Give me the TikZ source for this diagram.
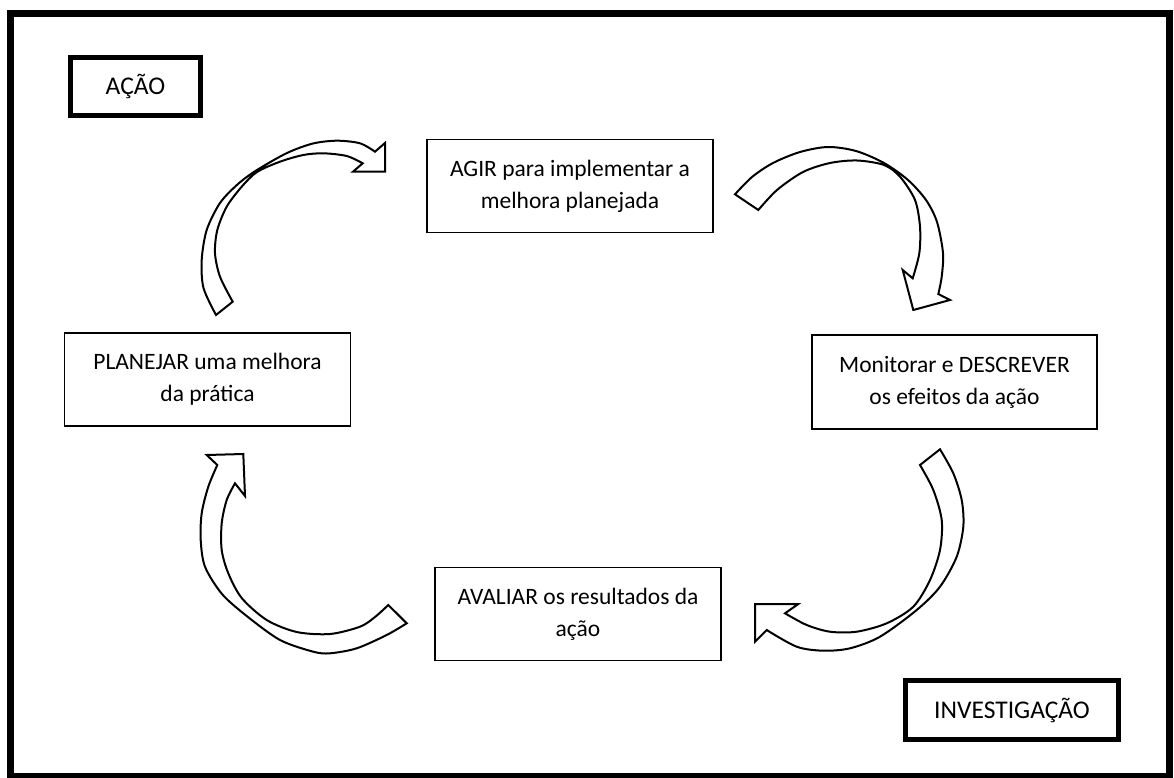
\documentclass[tikz,border=0pt]{standalone}
\usepackage{fontspec}
\setmainfont{Carlito}
\begin{document}
\begin{tikzpicture}[x=1pt,y=-1pt,
  caixa/.style={draw, line width=1.5pt, minimum width=286pt, minimum height=93pt, align=center, font=\fontsize{23.5}{32}\selectfont},
  rotulo/.style={draw, line width=5pt, font=\fontsize{25.5}{30}\selectfont},
  seta/.style={draw, line width=2pt, fill=white, line join=miter}]
\useasboundingbox (0,0) rectangle (1174,778);
\draw[line width=7pt] (10.5,13.5) rectangle (1169.5,776.5);

\node[rotulo, minimum width=130pt, minimum height=58pt] (acao) at (135.5,86.5) {AÇÃO};
\node[rotulo, minimum width=213pt, minimum height=59pt] (investigacao) at (1012,710) {INVESTIGAÇÃO};

\node[caixa] (agir) at (570,186) {AGIR para implementar a\\melhora planejada};
\node[caixa, minimum width=285pt, minimum height=94pt] (monitorar) at (954.5,382) {Monitorar e DESCREVER\\os efeitos da ação};
\node[caixa] (avaliar) at (578,614) {AVALIAR os resultados da\\ação};
\node[caixa] (planejar) at (207.5,379.5) {PLANEJAR uma melhora\\da prática};

\draw[seta] plot[smooth] coordinates {(216,315) (203.5,288) (201.7,260) (206.7,230) (220,203) (238,184) (257,170) (287,153) (313,143.5) (337,140.7) (360,143.3) (375,151.7)}
  -- (385,143) -- (385,171.7) -- (353,171.7)
  -- plot[smooth] coordinates {(362.7,163.3) (346.7,156) (323.3,153.3) (303.3,155) (280,161.7) (257,172) (241.7,186.7) (226.7,206.7) (217.3,230) (215,253.3) (220,276.7) (232.7,301.7)} -- cycle;

\draw[seta] plot[smooth] coordinates {(735,194.3) (752,177) (773,163) (800,152) (828,147) (856,151) (884,163) (908,180) (926,200) (937,222) (943,253) (941.7,276.7) (938.3,294)}
  -- (950,300) -- (913.3,310) -- (902.7,270)
  -- plot[smooth] coordinates {(912.7,278.3) (919.3,253.3) (920,226.7) (915,200) (900,176.7) (884,165) (857,160.5) (830,163) (803,172) (777,190) (758.3,210)} -- cycle;

\draw[seta] plot[smooth] coordinates {(940,449.3) (953.3,473.3) (961.7,500) (963.3,526.7) (956.7,556.7) (940,586.7) (916.7,610) (880,636.7) (850,648.3) (823.3,650.7) (796.7,646.7) (766.7,630)}
  -- (755,641.7) -- (755,604) -- (798.3,604)
  -- plot[smooth] coordinates {(785,613.3) (806.7,625) (830,631.7) (856.7,631.7) (886.7,623.3) (913.3,606.7) (930,580) (940,550) (941.7,520) (933.3,490) (920,465)} -- cycle;

\draw[seta] plot[smooth] coordinates {(406.7,623.3) (386.7,635) (356.7,648.3) (330,653.3) (313.3,651.7) (280,640) (246.7,616) (222,594) (205,566.7) (200.7,540) (201.7,513.3) (208.3,486.7) (217.3,465)}
  -- (206.7,455) -- (243.3,454) -- (245,496)
  -- plot[smooth] coordinates {(235,483.3) (226.7,500) (221.7,523.3) (221.7,550) (228.3,573.3) (241.7,598) (266.7,620) (296.7,632) (330,634) (360,626.7) (375,617) (388.3,605)} -- cycle;
\end{tikzpicture}
\end{document}
